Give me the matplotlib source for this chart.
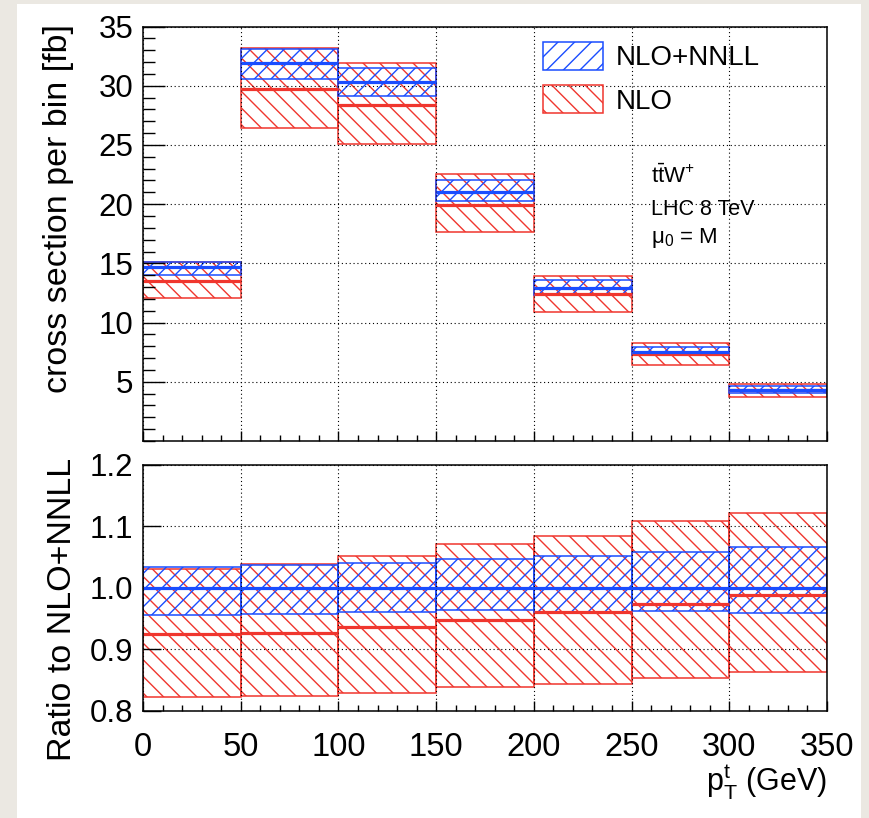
import numpy as np
import matplotlib
matplotlib.use("Agg")
import matplotlib.pyplot as plt
from matplotlib.patches import Patch, Rectangle

# bin edges in p_T^t (GeV)
edges = [0, 50, 100, 150, 200, 250, 300, 350]

# upper panel: cross section per bin [fb]
nnll_central = [14.68, 31.96, 30.28, 21.00, 12.93, 7.54, 4.33]
nnll_lo = [14.03, 30.58, 29.10, 20.27, 12.37, 7.27, 4.05]
nnll_hi = [15.10, 33.10, 31.51, 22.04, 13.60, 7.93, 4.67]
nlo_central = [13.55, 29.69, 28.39, 19.93, 12.42, 7.34, 4.28]
nlo_lo = [12.07, 26.43, 25.10, 17.68, 10.89, 6.38, 3.68]
nlo_hi = [15.15, 33.20, 31.88, 22.57, 13.95, 8.27, 4.84]

# lower panel: ratio to NLO+NNLL
ratio_nnll_central = [1.0, 1.0, 1.0, 1.0, 1.0, 1.0, 1.0]
ratio_nnll_lo = [0.956, 0.957, 0.960, 0.964, 0.961, 0.963, 0.959]
ratio_nnll_hi = [1.034, 1.037, 1.041, 1.047, 1.052, 1.058, 1.067]
ratio_nlo_central = [0.925, 0.926, 0.936, 0.947, 0.960, 0.973, 0.988]
ratio_nlo_lo = [0.823, 0.824, 0.829, 0.839, 0.844, 0.853, 0.863]
ratio_nlo_hi = [1.031, 1.039, 1.052, 1.071, 1.084, 1.108, 1.121]

BLUE = "#1a4dff"
RED = "#f0362e"

plt.rcParams["font.family"] = ["Liberation Sans", "DejaVu Sans"]
plt.rcParams["mathtext.fontset"] = "custom"
plt.rcParams["mathtext.rm"] = "Liberation Sans"
plt.rcParams["mathtext.it"] = "Liberation Sans"
plt.rcParams["hatch.linewidth"] = 1.0

W, H = 869, 818
fig = plt.figure(figsize=(W / 100, H / 100), dpi=100, facecolor="#ebe8e2")
fig.patches.append(Rectangle((17 / W, 0), (861 - 17) / W, (H - 4) / H,
                             transform=fig.transFigure, facecolor="white",
                             edgecolor="none", zorder=-1))

ax1 = fig.add_axes([143 / W, 1 - 441 / H, 684 / W, (441 - 26.5) / H])
ax2 = fig.add_axes([143 / W, 1 - 711 / H, 684 / W, (711 - 464.7) / H])

left = edges[:-1]
widths = np.diff(edges)


def band(ax, lo, hi, color, hatch):
    ax.bar(left, np.subtract(hi, lo), width=widths, bottom=lo, align="edge",
           facecolor="none", edgecolor=color, hatch=hatch, linewidth=1.1)


for ax, (nlo_l, nlo_h, nlo_c, nn_l, nn_h, nn_c) in [
        (ax1, (nlo_lo, nlo_hi, nlo_central, nnll_lo, nnll_hi, nnll_central)),
        (ax2, (ratio_nlo_lo, ratio_nlo_hi, ratio_nlo_central,
               ratio_nnll_lo, ratio_nnll_hi, ratio_nnll_central))]:
    band(ax, nlo_l, nlo_h, RED, "\\\\")
    band(ax, nn_l, nn_h, BLUE, "//")
    ax.hlines(nlo_c, edges[:-1], edges[1:], colors=RED, linewidth=2.3)
    ax.hlines(nn_c, edges[:-1], edges[1:], colors=BLUE, linewidth=2.3)
    ax.set_xlim(0, 350)
    ax.set_xticks(np.arange(0, 351, 50))
    ax.set_xticks(np.arange(0, 351, 10), minor=True)
    ax.grid(True, which="major", color="black", linestyle=(0, (1, 2.5)), linewidth=0.8)
    ax.tick_params(which="both", direction="in", top=False, right=False, width=1)
    ax.tick_params(axis="x", which="major", length=7.5)
    ax.tick_params(axis="x", which="minor", length=4)
    for s in ax.spines.values():
        s.set_linewidth(1.1)

# upper panel axes
ax1.set_ylim(0, 35)
ax1.set_yticks(np.arange(5, 36, 5))
ax1.set_yticks(np.arange(0, 36, 1), minor=True)
ax1.tick_params(axis="y", which="major", length=16, labelsize=22.5, pad=7)
ax1.tick_params(axis="y", which="minor", length=8.5)
ax1.tick_params(axis="x", labelbottom=False)

# lower panel axes
ax2.set_ylim(0.8, 1.2)
ax2.set_yticks([0.8, 0.9, 1.0, 1.1, 1.2])
ax2.set_yticklabels(["0.8", "0.9", "1.0", "1.1", "1.2"])
ax2.tick_params(axis="y", which="major", length=13, labelsize=22.5, pad=7)
ax2.tick_params(axis="x", which="major", labelsize=23.5, pad=15)
for t in ax2.get_xticklabels():
    t.set_family(["Liberation Sans Narrow", "Liberation Sans"])

# legend
handles = [Patch(facecolor="none", edgecolor=BLUE, hatch="//", linewidth=1.1),
           Patch(facecolor="none", edgecolor=RED, hatch="\\\\", linewidth=1.1)]
ax1.legend(handles, ["NLO+NNLL", "NLO"], loc="upper left",
           bbox_to_anchor=(0.5848, 0.962), borderpad=0, borderaxespad=0,
           frameon=False, fontsize=20, handlelength=2.15, handleheight=1.15,
           handletextpad=0.48, labelspacing=0.5)

# process labels
ax1.text(259.8, 21.8, r"$\mathrm{t\bar{t}W^{+}}$", fontsize=16)
ax1.text(259.8, 19.1, "LHC 8 TeV", fontsize=15.5)
ax1.text(259.8, 16.7, r"$\mathrm{\mu_{0}}$ = M", fontsize=16)

# axis titles
fig.text(59 / W, 1 - 209 / H, "cross section per bin [fb]", rotation=90,
         ha="center", va="center", fontsize=24.5)
fig.text(63 / W, 1 - 609 / H, "Ratio to NLO+NNLL", rotation=90,
         ha="center", va="center", fontsize=24.5)
fig.text(827 / W, 1 - 791 / H, r"$\mathrm{p_{T}^{t}}$ (GeV)", ha="right",
         va="baseline", fontsize=22)

fig.savefig("out.png", dpi=100, facecolor=fig.get_facecolor())
